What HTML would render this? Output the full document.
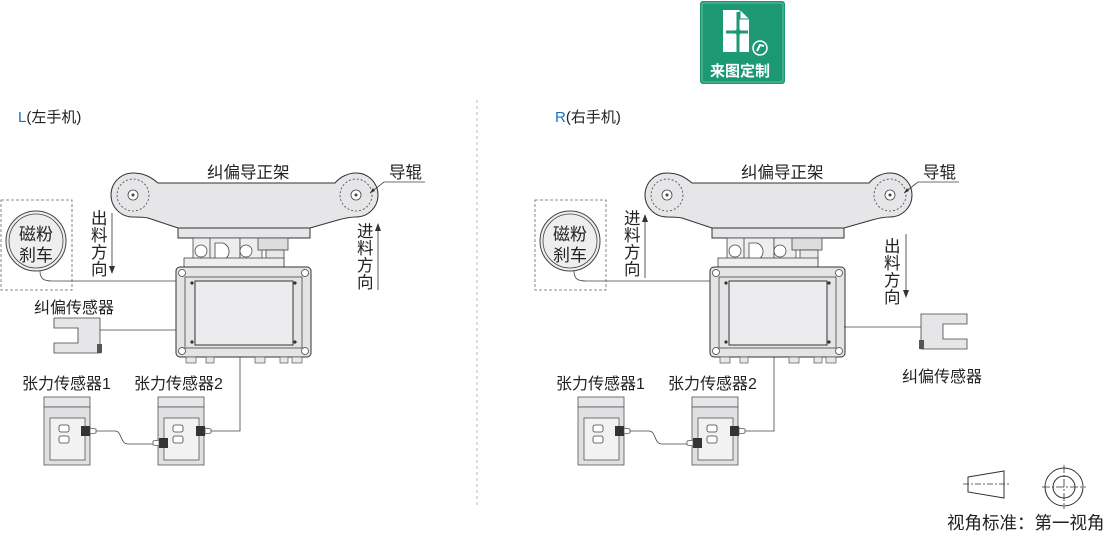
<!DOCTYPE html>
<html><head><meta charset="utf-8"><style>
html,body{margin:0;padding:0;background:#fff;}
svg{display:block;}
text{font-family:"Liberation Sans","Noto Sans CJK SC",sans-serif;fill:#222;}
</style></head><body>
<svg width="1110" height="533" viewBox="0 0 1110 533" xmlns="http://www.w3.org/2000/svg">
<defs>
<g id="asm">
  <path d="M133,173 C145,173 152,178 158,183 L335,183 C340,177 348,173 356,173 A22,22 0 0 1 356,217 C350,217 345,218 338,220 L310,228 L178,228 L148,218 C143,217 138,217 133,217 A22,22 0 0 1 133,173 Z" fill="#e6e6e8" stroke="#333" stroke-width="1"/>
  <circle cx="133" cy="195" r="16" fill="none" stroke="#444" stroke-width="0.8" stroke-dasharray="2,2"/>
  <circle cx="133" cy="195" r="5" fill="#fff" stroke="#444" stroke-width="0.8"/><circle cx="133" cy="195" r="1.5" fill="#444"/>
  <circle cx="356" cy="195" r="16" fill="none" stroke="#444" stroke-width="0.8" stroke-dasharray="2,2"/>
  <circle cx="356" cy="195" r="5" fill="#fff" stroke="#444" stroke-width="0.8"/><circle cx="356" cy="195" r="1.5" fill="#444"/>
  <rect x="178" y="228" width="132" height="10" fill="#e6e6e8" stroke="#333" stroke-width="1"/>
  <rect x="193" y="238" width="30" height="22" fill="#eee" stroke="#444" stroke-width="0.8"/>
  <circle cx="201" cy="251" r="6" fill="#fff" stroke="#444" stroke-width="0.8"/>
  <rect x="210" y="238" width="30" height="26" fill="#eee" stroke="#444" stroke-width="0.8"/>
  <path d="M215,243 h8 a9,9 0 0 1 0,17 h-8 z" fill="#fff" stroke="#444" stroke-width="0.8"/>
  <rect x="240" y="238" width="22" height="26" fill="#eee" stroke="#444" stroke-width="0.8"/>
  <circle cx="246" cy="251" r="6" fill="#fff" stroke="#444" stroke-width="0.8"/>
  <rect x="258" y="238" width="30" height="12" fill="#ddd" stroke="#444" stroke-width="0.8"/>
  <rect x="266" y="250" width="18" height="17" fill="#e8e8e8" stroke="#444" stroke-width="0.8"/>
  <rect x="184" y="258" width="100" height="9" fill="#eee" stroke="#444" stroke-width="0.8"/>
  <rect x="176" y="267" width="135" height="90" rx="4" fill="#e4e4e6" stroke="#333" stroke-width="1"/>
  <rect x="185" y="277" width="117" height="71" fill="none" stroke="#444" stroke-width="0.8"/>
  <rect x="195" y="281" width="98" height="64" fill="#ececee" stroke="#333" stroke-width="1"/>
  <g fill="#fff" stroke="#444" stroke-width="0.8">
    <circle cx="182" cy="273" r="3.5"/><circle cx="305" cy="273" r="3.5"/><circle cx="182" cy="351" r="3.5"/><circle cx="305" cy="351" r="3.5"/>
  </g>
  <g fill="#333"><circle cx="192" cy="283" r="1.6"/><circle cx="295" cy="283" r="1.6"/><circle cx="192" cy="342" r="1.6"/><circle cx="295" cy="342" r="1.6"/></g>
  <g fill="#e8e8e8" stroke="#555" stroke-width="0.7">
    <rect x="186" y="357" width="10" height="6"/><rect x="206" y="357" width="8" height="6"/><rect x="255" y="357" width="10" height="6"/><rect x="280" y="357" width="8" height="6"/><rect x="292" y="357" width="10" height="6"/>
  </g>
  <g id="ts">
    <rect x="44" y="397" width="46" height="10" fill="#e6e6e8" stroke="#555" stroke-width="0.8"/>
    <rect x="44" y="407" width="46" height="58" fill="#e0e0e2" stroke="#555" stroke-width="0.8"/>
    <rect x="50" y="418" width="35" height="42" fill="#f2f2f2" stroke="#555" stroke-width="0.8"/>
    <rect x="59" y="425" width="10" height="7" rx="2" fill="#fff" stroke="#444" stroke-width="0.8"/>
    <rect x="59" y="436" width="10" height="7" rx="2" fill="#fff" stroke="#444" stroke-width="0.8"/>
  </g>
  <use href="#ts" x="114"/>
  <rect x="81" y="426" width="9" height="10" fill="#333"/><path d="M90,428 l6,1 l0,4 l-6,1 z" fill="#fff" stroke="#444" stroke-width="0.7"/>
  <rect x="196" y="426" width="9" height="10" fill="#333"/><path d="M205,428 l6,1 l0,4 l-6,1 z" fill="#fff" stroke="#444" stroke-width="0.7"/>
  <rect x="159" y="438" width="9" height="10" fill="#333"/><path d="M159,440 l-6,1 l0,4 l6,1 z" fill="#fff" stroke="#444" stroke-width="0.7"/>
  <path d="M96,431 H115 C122,431 120,444 128,444 H153" fill="none" stroke="#444" stroke-width="0.8"/>
  <path d="M211,431 H240 V357" fill="none" stroke="#444" stroke-width="0.8"/>
  <text x="207" y="178" font-size="16.5">纠偏导正架</text>
  <text x="389" y="178" font-size="16.5">导辊</text>
  <path d="M384,182 H425 M384,182 L370,193" stroke="#444" stroke-width="0.8" fill="none"/>
  <path d="M370,193 l3,-5 l2,3 z" fill="#333"/>
  <text x="22" y="389" font-size="16">张力传感器1</text>
  <text x="134" y="389" font-size="16">张力传感器2</text>
</g>
<g id="brake">
  <rect x="1" y="200" width="71" height="90" fill="none" stroke="#666" stroke-width="0.8" stroke-dasharray="3,2"/>
  <circle cx="36" cy="241" r="30" fill="#eee" stroke="#444" stroke-width="1"/>
  <circle cx="36" cy="241" r="27" fill="none" stroke="#444" stroke-width="0.8"/>
  <text x="19" y="240" font-size="17">磁粉</text>
  <text x="19" y="261" font-size="17">刹车</text>
</g>
<g id="vs">
  <path d="M0,0 h46 v35 h-46 v-10 h24 v-15 h-24 z" fill="#e6e6e8" stroke="#444" stroke-width="0.8"/>
</g>
</defs>

<rect x="700" y="1" width="85" height="83" rx="3" fill="#1c9973"/>
<rect x="702" y="3" width="81" height="79" rx="2" fill="none" stroke="#7fcab2" stroke-width="0.8"/>
<path d="M723,10 h17 l9,9 v33 h-26 z" fill="#fff"/>
<path d="M740,10 v9 h9" fill="none" stroke="#1c9973" stroke-width="1"/>
<path d="M738,12 v40 M726,32 h22" stroke="#1c9973" stroke-width="3"/>
<circle cx="738" cy="32" r="3" fill="#1c9973"/>
<circle cx="760" cy="48" r="7" fill="#1c9973" stroke="#fff" stroke-width="1.5"/>
<path d="M757,51 l3,-6 l4,1" stroke="#fff" stroke-width="2" fill="none"/>
<text x="710" y="76" font-size="15" font-weight="bold" style="fill:#fff">来图定制</text>

<text x="18" y="122" font-size="15"><tspan style="fill:#1b6fc2">L</tspan>(左手机)</text>
<text x="555" y="122" font-size="15"><tspan style="fill:#1b6fc2">R</tspan>(右手机)</text>
<line x1="477" y1="100" x2="477" y2="505" stroke="#aaa" stroke-width="0.8" stroke-dasharray="3,3"/>

<use href="#asm"/>
<use href="#brake"/>
<path d="M40,271 C40,279 44,281 52,281 H176" fill="none" stroke="#444" stroke-width="0.8"/>
<text x="34" y="313" font-size="16">纠偏传感器</text>
<use href="#vs" x="54" y="318"/>
<rect x="97" y="344" width="5" height="9" fill="#555"/>
<path d="M100,330 H176" stroke="#444" stroke-width="0.8"/>
<g font-size="16.5"><text x="91" y="224">出</text><text x="91" y="241">料</text><text x="91" y="258">方</text><text x="91" y="275">向</text></g>
<path d="M112,213 V272" stroke="#333" stroke-width="0.8"/><path d="M109,266 l3,8 l3,-8 z" fill="#333"/>
<g font-size="16.5"><text x="357" y="237">进</text><text x="357" y="254">料</text><text x="357" y="271">方</text><text x="357" y="288">向</text></g>
<path d="M378,225 V290" stroke="#333" stroke-width="0.8"/><path d="M375,231 l3,-8 l3,8 z" fill="#333"/>

<use href="#asm" x="534"/>
<use href="#brake" x="534"/>
<path d="M574,271 C574,279 578,281 586,281 H710" fill="none" stroke="#444" stroke-width="0.8"/>
<g font-size="16.5"><text x="624" y="224">进</text><text x="624" y="241">料</text><text x="624" y="258">方</text><text x="624" y="275">向</text></g>
<path d="M645,216 V278" stroke="#333" stroke-width="0.8"/><path d="M642,222 l3,-8 l3,8 z" fill="#333"/>
<g font-size="16.5"><text x="884" y="252">出</text><text x="884" y="269">料</text><text x="884" y="286">方</text><text x="884" y="303">向</text></g>
<path d="M906,234 V296" stroke="#333" stroke-width="0.8"/><path d="M903,290 l3,8 l3,-8 z" fill="#333"/>
<path d="M844,327 H925" stroke="#444" stroke-width="0.8"/>
<use href="#vs" transform="translate(967,314) scale(-1,1)"/>
<rect x="919" y="340" width="5" height="9" fill="#555"/>
<text x="902" y="382" font-size="16">纠偏传感器</text>

<path d="M968,477 L1004,471 V498 L968,492 Z" fill="none" stroke="#333" stroke-width="1"/>
<path d="M963,484 H1010" stroke="#333" stroke-width="0.8" stroke-dasharray="6,2,2,2"/>
<circle cx="1064" cy="487" r="19" fill="none" stroke="#333" stroke-width="1"/>
<circle cx="1064" cy="487" r="11" fill="none" stroke="#333" stroke-width="1"/>
<path d="M1064,465 V509 M1042,487 H1086" stroke="#333" stroke-width="0.8" stroke-dasharray="8,2,2,2"/>
<text x="947" y="529" font-size="17.5">视角标准：第一视角</text>
</svg>
</body></html>
